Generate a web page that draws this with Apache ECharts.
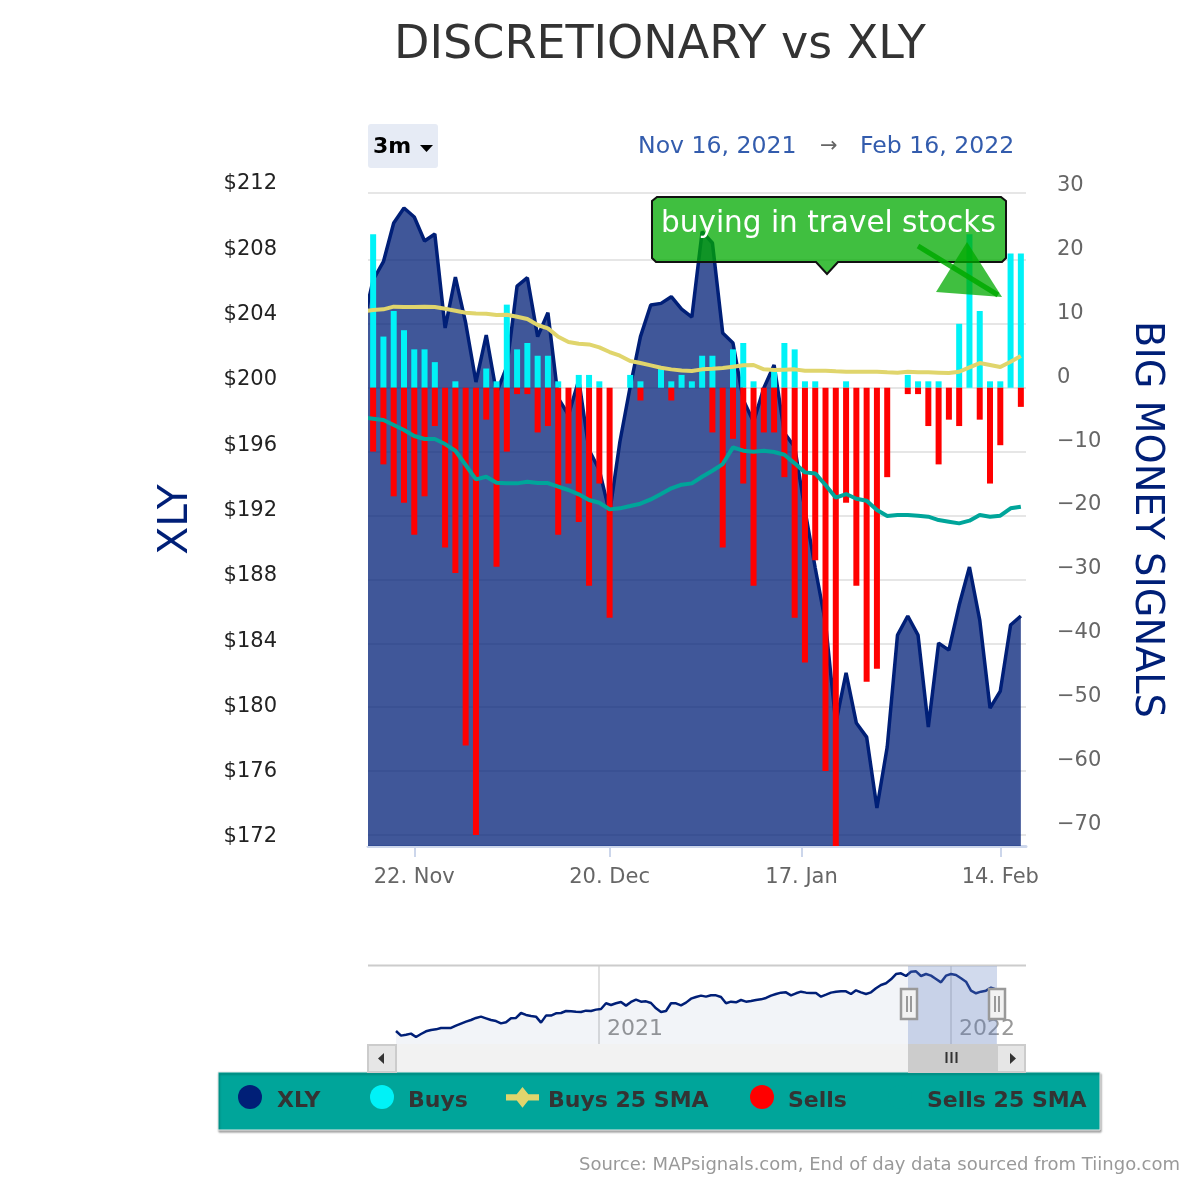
<!DOCTYPE html>
<html>
<head>
<meta charset="utf-8">
<title>DISCRETIONARY vs XLY</title>
<script src="https://cdn.jsdelivr.net/npm/echarts@6/dist/echarts.min.js"></script>
<style>
  html, body { margin: 0; padding: 0; background: #fff; }
  #chart { width: 1200px; height: 1180px; }
</style>
</head>
<body>
<div id="chart"></div>
<script>
// values; first xly / SMA entry is the clipped day before the window
const xly = [203.91, 206.67, 207.79, 210.16, 211.08, 210.53, 209.06, 209.49, 203.73, 206.85, 204.04, 200.42, 203.30,
  199.75, 201.36, 206.30, 206.81, 203.20, 204.67, 199.44, 198.40, 200.54, 196.26, 195.03, 192.40, 196.76, 200.13,
  203.20, 205.14, 205.24, 205.65, 204.89, 204.40, 209.63, 208.94, 203.42, 202.81, 199.32, 197.99, 200.05, 201.46,
  197.30, 196.44, 192.58, 189.03, 185.66, 179.53, 182.61, 179.53, 178.67, 174.33, 178.06, 184.92, 186.09, 184.92,
  179.29, 184.43, 184.00, 186.76, 189.09, 185.84, 180.45, 181.49, 185.54, 186.09];
const buys = [24, 8, 12, 9, 6, 6, 4, 0, 1, 0, 0, 3, 1, 13, 6, 7, 5, 5, 1, 0, 2, 2, 1, 0, 0, 2, 1, 0, 3, 1, 2, 1,
  5, 5, 0, 6, 7, 1, 0, 3, 7, 6, 1, 1, 0, 0, 1, 0, 0, 0, 0, 0, 2, 1, 1, 1, 0, 10, 24, 12, 1, 1, 21, 21];
const sells = [-10, -12, -17, -18, -23, -17, -6, -25, -29, -56, -70, -5, -28, -10, -1, -1, -7, -6, -23, -15, -21,
  -31, -15, -36, 0, 0, -2, 0, 0, -2, 0, 0, 0, -7, -25, -8, -15, -31, -7, -7, -14, -36, -43, -27, -60, -72, -18, -31,
  -46, -44, -14, 0, -1, -1, -6, -12, -5, -6, 0, -5, -15, -9, 0, -3];
const buysSma = [11.95, 12.15, 12.26, 12.68, 12.62, 12.62, 12.68, 12.62, 12.36, 12.05, 11.74, 11.63, 11.58, 11.37,
  11.42, 11.11, 10.75, 9.81, 9.29, 7.98, 7.15, 6.89, 6.78, 6.31, 5.58, 5.01, 4.17, 3.86, 3.5, 3.13, 2.87, 2.71, 2.61,
  2.87, 2.97, 3.08, 3.29, 3.5, 3.55, 2.87, 2.76, 2.82, 2.87, 2.66, 2.66, 2.66, 2.56, 2.5, 2.5, 2.5, 2.5, 2.4, 2.35,
  2.5, 2.4, 2.4, 2.35, 2.3, 2.5, 3.18, 3.86, 3.55, 3.23, 4.07, 4.96];
const sellsSma = [-4.64, -4.85, -5.06, -5.84, -6.62, -7.56, -8.03, -8.03, -8.82, -9.86, -12.1, -14.35, -13.93, -14.87,
  -14.97, -14.97, -14.71, -14.92, -14.92, -15.49, -16.01, -16.69, -17.58, -18.0, -19.04, -18.88, -18.52, -18.15,
  -17.48, -16.64, -15.75, -15.18, -14.97, -13.93, -12.99, -11.95, -9.34, -9.86, -10.02, -9.86, -10.07, -10.49,
  -11.84, -13.25, -13.41, -15.23, -17.21, -16.64, -17.37, -17.68, -19.14, -20.08, -19.93, -19.93, -20.03, -20.19,
  -20.71, -20.97, -21.23, -20.81, -19.93, -20.19, -20.03, -18.88, -18.62];
// navigator: full XLY history, one reading every few days
const navXly = [126.9, 120.6, 121.9, 123.3, 118.7, 122.8, 126.5, 128.3, 129.2, 131.1, 131.1, 131.1, 134.2, 137.0,
  139.7, 142.0, 144.8, 146.6, 144.3, 142.0, 140.6, 137.4, 138.8, 144.3, 144.8, 151.6, 148.9, 147.5, 146.6, 138.4,
  148.0, 148.0, 151.1, 151.6, 154.3, 153.9, 153.4, 153.0, 154.8, 154.3, 156.2, 157.1, 164.9, 162.6, 164.9, 166.7,
  161.7, 166.7, 169.9, 167.1, 167.6, 165.3, 158.0, 153.0, 154.3, 164.9, 164.9, 162.1, 165.8, 171.2, 173.5, 175.4,
  174.0, 175.8, 175.8, 173.5, 164.9, 167.1, 166.2, 169.4, 167.1, 168.1, 169.4, 170.3, 172.2, 175.4, 177.6, 179.5,
  179.9, 175.8, 178.6, 180.8, 179.5, 179.0, 179.0, 174.0, 176.7, 179.5, 180.8, 181.3, 181.3, 177.6, 182.7, 179.9,
  177.6, 179.9, 185.4, 190.0, 192.3, 197.7, 205.0, 206.0, 202.3, 208.2, 208.7, 202.3, 205.0, 202.8, 198.2, 193.6,
  202.8, 205.0, 203.7, 199.1, 194.5, 182.2, 178.6, 180.8, 182.2, 186.3, 184.0];

const xTicks = [4, 23, 41.67, 61];
const xTickLabels = ['22. Nov', '20. Dec', '17. Jan', '14. Feb'];
const navTicks = [40.6, 111];
const navTickLabels = ['2021', '2022'];
const priceMin = 172, priceMax = 212, priceStep = 4;
const signalTicks = [30, 20, 10, 0, -10, -20, -30, -40, -50, -60, -70];
const signalTop = 30.47; // top gridline of the plot

const FONT = '"DejaVu Sans", sans-serif';
const NAVY = '#001f77', YELLOW = '#e0d56c', TEAL = '#00a59a', CYAN = '#00f2f7', RED = '#ff0000';

function withDay(values, first) {
  return values.map((v, i) => [i + first, v]);
}

function txt(x, y, text, fontSize, fill, extra) {
  return { type: 'text', z: 75, style: Object.assign({ x, y, text, fontSize, fill, fontFamily: FONT, verticalAlign: 'middle' }, extra) };
}

function box(x, y, width, height, fill, extra) {
  return Object.assign({ type: 'rect', z: 60, shape: { x, y, width, height }, style: { fill } }, extra);
}

function poly(points, fill, z) {
  return { type: 'polygon', z: z || 60, shape: { points }, style: { fill } };
}

const grips = (x, y0, y1, color, w) => ({ type: 'line', z: 62, shape: { x1: x, y1: y0, x2: x, y2: y1 }, style: { stroke: color, lineWidth: w } });

const graphics = [
  // line stroke clip runs a bit past the plot edge
  box(358, 190, 10, 656, '#fff', { z: 50 }),

  // range button and date inputs
  box(368, 124, 70, 44, '#e6ebf5', { shape: { x: 368, y: 124, width: 70, height: 44, r: 3 } }),
  txt(373, 147, '3m', 22, '#000', { fontWeight: 'bold' }),
  poly([[420, 145], [433, 145], [426.5, 152]], '#000'),
  txt(638, 147, 'Nov 16, 2021', 23.6, '#335cad'),
  txt(820, 147, '→', 21, '#666'),
  txt(860, 147, 'Feb 16, 2022', 23.6, '#335cad'),

  // callout over the plot
  { type: 'polygon', z: 70, shape: { points: [[657, 197], [1001, 197], [1006, 201], [1006, 258], [1002, 262], [838, 262], [827, 274], [816, 262], [656, 262], [652, 258], [652, 201]] },
    style: { fill: 'rgba(0,170,0,0.75)', stroke: '#111', lineWidth: 2 } },
  txt(661, 224, 'buying in travel stocks', 29.5, '#fff', { }),
  poly([[967, 242], [936, 292], [1002, 297]], 'rgba(0,170,0,0.75)', 71),
  { type: 'line', z: 72, shape: { x1: 918, y1: 246, x2: 998, y2: 295 }, style: { stroke: 'rgba(0,170,0,0.85)', lineWidth: 5 } },

  // navigator frame, selection and scrollbar
  { type: 'line', z: 5, shape: { x1: 368, y1: 965.5, x2: 1026, y2: 965.5 }, style: { stroke: '#cccccc', lineWidth: 2 } },
  box(396, 1044, 601, 28, '#f2f2f2', { z: 1 }),
  box(908, 966, 89, 78, 'rgba(102,133,194,0.3)'),
  box(908, 1044, 89, 29, '#cccccc'),
  grips(946.5, 1052, 1063, '#333', 2), grips(951.5, 1052, 1063, '#333', 2), grips(956.5, 1052, 1063, '#333', 2),
  box(368, 1045, 28, 27, '#e6e6e6', { style: { fill: '#e6e6e6', stroke: '#cccccc', lineWidth: 2 } }),
  poly([[384, 1053], [384, 1064], [378, 1058.5]], '#333'),
  box(997, 1045, 28, 27, '#e6e6e6', { style: { fill: '#e6e6e6', stroke: '#cccccc', lineWidth: 2 } }),
  poly([[1010, 1053], [1010, 1064], [1016, 1058.5]], '#333'),
  box(901, 989, 16, 30, '#f2f2f2', { style: { fill: '#f2f2f2', stroke: '#999999', lineWidth: 2.5 } }),
  grips(907, 996, 1012, '#999', 2), grips(911, 996, 1012, '#999', 2),
  box(989, 989, 16, 30, '#f2f2f2', { style: { fill: '#f2f2f2', stroke: '#999999', lineWidth: 2.5 } }),
  grips(995, 996, 1012, '#999', 2), grips(999, 996, 1012, '#999', 2),

  // legend panel
  box(218, 1072, 882, 58, TEAL, { z: 3, style: { fill: TEAL, stroke: '#e8e8e8', lineWidth: 1, shadowColor: 'rgba(0,0,0,0.35)', shadowBlur: 2, shadowOffsetX: 1, shadowOffsetY: 2 } }),

  txt(1180, 1165, 'Source: MAPsignals.com, End of day data sourced from Tiingo.com', 18, '#999999', { textAlign: 'right' })
];

function legendItem(name, left, icon, w, gap, top) {
  return {
    data: [{ name, icon }],
    left, top: top || 1085,
    padding: 0,
    itemWidth: w, itemHeight: 24,
    selectedMode: false,
    formatter: n => '{t|' + n + '}',
    textStyle: {
      rich: {
        t: { fontFamily: FONT, fontSize: 22, fontWeight: 'bold', color: '#333', padding: [8, 0, 0, gap] }
      }
    }
  };
}

const chart = echarts.init(document.getElementById('chart'));
chart.setOption({
  animation: false,
  textStyle: { fontFamily: FONT },
  title: {
    text: 'DISCRETIONARY vs XLY',
    left: 655, top: 18, textAlign: 'center',
    textStyle: { fontFamily: FONT, fontSize: 46, fontWeight: 'normal', color: '#333' }
  },
  legend: [
    legendItem('XLY', 238, 'circle', 24, 10),
    legendItem('Buys', 370, 'circle', 24, 9),
    legendItem('Buys 25 SMA', 506, 'path://M0 9H32V15H0Z M8 12L16 2L24 12L16 22Z', 33, 4, 1087),
    legendItem('Sells', 750, 'circle', 24, 9),
    legendItem('Sells 25 SMA', 888, 'circle', 24, 10)
  ],
  grid: [
    { left: 368, right: 174, top: 193, bottom: 334 },
    { left: 368, right: 174, top: 966, bottom: 136 }
  ],
  xAxis: [
    {
      type: 'value', gridIndex: 0, min: -0.5, max: 63.5,
      splitLine: { show: false },
      axisLine: { onZero: false, lineStyle: { color: '#ccd6eb', width: 3 } },
      axisTick: { length: 11, lineStyle: { color: '#ccd6eb', width: 2 }, customValues: xTicks },
      axisLabel: {
        customValues: xTicks, margin: 21, fontSize: 21, color: '#666',
        formatter: v => xTickLabels[xTicks.indexOf(v)]
      }
    },
    {
      type: 'value', gridIndex: 1, min: -5.6, max: 126,
      axisLine: { show: false },
      axisTick: { show: false, customValues: navTicks },
      splitLine: { show: true, lineStyle: { color: '#e0e0e0', width: 2 } },
      axisLabel: {
        customValues: navTicks, inside: true, margin: 4, fontSize: 22, color: '#999',
        align: 'left', verticalAlign: 'bottom', padding: [0, 0, 0, 8],
        formatter: v => navTickLabels[navTicks.indexOf(v)]
      }
    }
  ],
  yAxis: [
    {
      type: 'value', gridIndex: 0, position: 'left', min: priceMin, max: priceMax, interval: priceStep,
      name: 'XLY', nameLocation: 'middle', nameRotate: 90, nameGap: 171,
      nameTextStyle: { fontSize: 41, color: NAVY },
      splitLine: { show: false }, axisLine: { show: false }, axisTick: { show: false },
      axisLabel: {
        margin: 91, fontSize: 21, lineHeight: 18, color: '#222', verticalAlign: 'bottom',
        formatter: v => '$' + v
      }
    },
    {
      type: 'value', gridIndex: 0, position: 'right', min: -71.72, max: signalTop,
      name: 'BIG MONEY SIGNALS', nameLocation: 'middle', nameRotate: -90, nameGap: 101,
      nameTextStyle: { fontSize: 38.3, color: NAVY },
      axisLine: { show: false },
      axisTick: { show: false, customValues: signalTicks.filter(v => v !== 30).concat(signalTop) },
      splitLine: { show: true, lineStyle: { color: '#e6e6e6', width: 2 } },
      axisLabel: {
        customValues: signalTicks, margin: 31, fontSize: 21, color: '#666', verticalAlign: 'bottom',
        formatter: v => String(v).replace('-', '−')
      }
    },
    {
      type: 'value', gridIndex: 1, min: 109.1, max: 216,
      show: false
    }
  ],
  series: [
    {
      name: 'XLY', type: 'line', xAxisIndex: 0, yAxisIndex: 0, z: 1,
      data: withDay(xly, -1), symbol: 'none',
      itemStyle: { color: NAVY }, lineStyle: { color: NAVY, width: 3.5 },
      areaStyle: { color: NAVY, opacity: 0.75, origin: 'start' }
    },
    {
      name: 'Buys', type: 'bar', xAxisIndex: 0, yAxisIndex: 1, z: 2,
      data: withDay(buys, 0), barWidth: 6, barGap: '-100%', itemStyle: { color: CYAN }
    },
    {
      name: 'Sells', type: 'bar', xAxisIndex: 0, yAxisIndex: 1, z: 2,
      data: withDay(sells, 0), barWidth: 6, barGap: '-100%', itemStyle: { color: RED }
    },
    {
      name: 'Buys 25 SMA', type: 'line', xAxisIndex: 0, yAxisIndex: 1, z: 3,
      data: withDay(buysSma, -1), symbol: 'none',
      itemStyle: { color: YELLOW }, lineStyle: { color: YELLOW, width: 4 }
    },
    {
      name: 'Sells 25 SMA', type: 'line', xAxisIndex: 0, yAxisIndex: 1, z: 3,
      data: withDay(sellsSma, -1), symbol: 'none',
      itemStyle: { color: TEAL }, lineStyle: { color: TEAL, width: 4 }
    },
    {
      name: 'XLY history', type: 'line', xAxisIndex: 1, yAxisIndex: 2, z: 2,
      data: withDay(navXly, 0), symbol: 'none',
      lineStyle: { color: NAVY, width: 2.5 },
      areaStyle: { color: NAVY, opacity: 0.05, origin: 'start' }
    }
  ],
  graphic: graphics
});
</script>
</body>
</html>
